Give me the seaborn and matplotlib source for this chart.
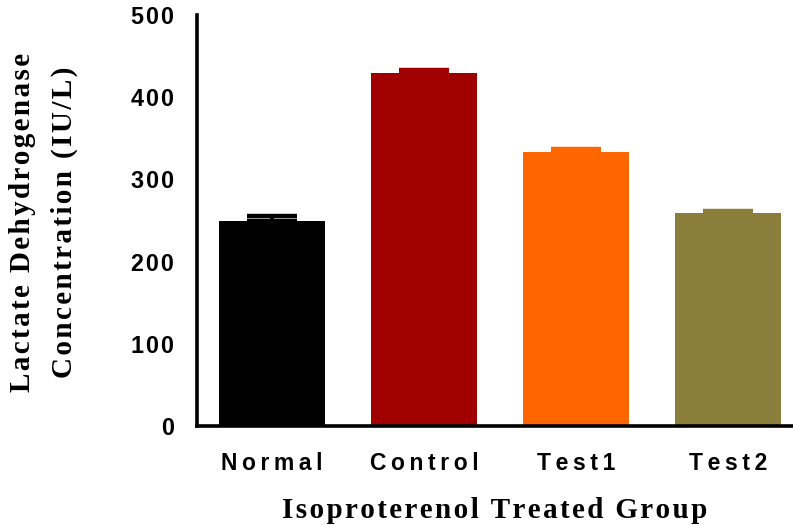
import matplotlib
matplotlib.use("Agg")
import matplotlib.pyplot as plt
import seaborn as sns
import pandas as pd

groups = ["Normal", "Control", "Test1", "Test2"]
ldh_mean = [249, 429, 333, 259]
ldh_err = [6, 4, 4, 3]
bar_colors = ["#000000", "#A00000", "#FF6600", "#8B7D3A"]
y_ticks = [0, 100, 200, 300, 400, 500]
x_title = "Isoproterenol Treated Group"
y_title = ["Lactate Dehydrogenase", "Concentration (IU/L)"]

TS = "\u2009"   # thin space: letter spacing of tick labels
HS = "\u200A"   # hair space: letter spacing of numbers and axis titles


def spaced(s, sep):
    return sep.join(s)


def spaced_words(s, sep):
    return (sep + " " + sep).join(sep.join(w) for w in s.split(" "))


sns.set_theme(style="white")
plt.rcParams["font.family"] = ["Liberation Sans", "DejaVu Sans"]

df = pd.DataFrame({"group": groups, "ldh": ldh_mean})

fig = plt.figure(figsize=(7.93, 5.25), dpi=100)
ax = fig.add_axes([197 / 793, 1 - 426 / 525, (793 - 197) / 793, (426 - 15) / 525])

sns.barplot(data=df, x="group", y="ldh", hue="group", palette=bar_colors,
            order=groups, hue_order=groups, width=0.70, errorbar=None,
            legend=False, linewidth=0, saturation=1, ax=ax)

for i, (m, e, c) in enumerate(zip(ldh_mean, ldh_err, bar_colors)):
    ax.errorbar(i, m, yerr=[[0], [e]], fmt="none", ecolor=c,
                elinewidth=3, capsize=18, capthick=3.2, zorder=3)

sans = ["Liberation Sans", "DejaVu Sans"]
serif = ["Liberation Serif", "DejaVu Serif"]

ax.set_xlim(-0.495, 3.43)
ax.set_ylim(0, 500)
ax.set_yticks(y_ticks)
ax.set_yticklabels([spaced(str(v), HS) for v in y_ticks],
                   fontdict=dict(family=sans, weight="bold", size=16.8))
ax.set_xticks(range(len(groups)))
ax.set_xticklabels([spaced(g, TS) for g in groups],
                   fontdict=dict(family=sans, weight="bold", size=16.5))

for s in ["top", "right"]:
    ax.spines[s].set_visible(False)
for s in ["left", "bottom"]:
    ax.spines[s].set_color("black")
    ax.spines[s].set_linewidth(2.6)

ax.tick_params(axis="both", direction="out", length=8.5, width=2.6,
               color="black", labelcolor="black")
ax.tick_params(axis="y", pad=8)
ax.tick_params(axis="x", pad=10)
ax.grid(False)

ax.set_xlabel(spaced_words(x_title, HS),
              fontdict=dict(family=serif, weight="bold", size=21),
              labelpad=16, color="black")
ax.set_ylabel("\n".join(spaced_words(line, HS) for line in y_title),
              fontdict=dict(family=serif, weight="bold", size=21),
              color="black", linespacing=1.68, va="center")
ax.yaxis.set_label_coords((43.5 - 197) / (793 - 197), 0.495)

fig.savefig("out.png", dpi=100)
